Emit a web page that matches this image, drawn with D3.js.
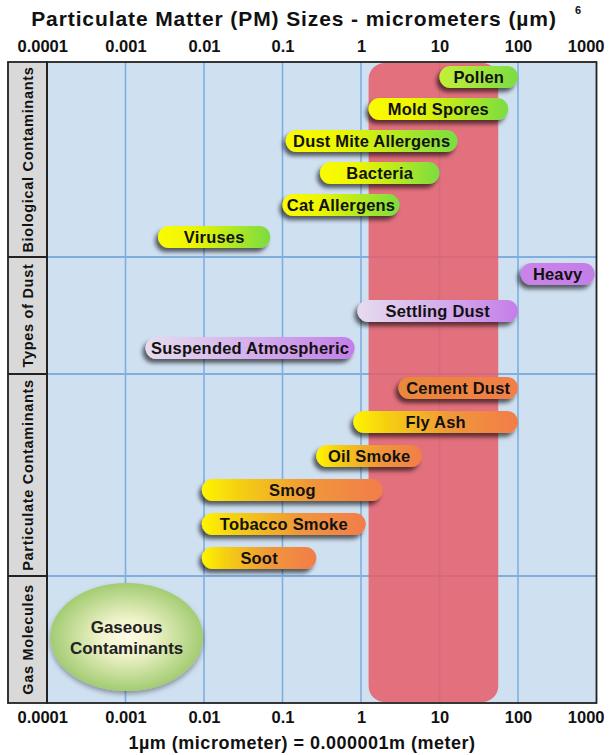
<!DOCTYPE html>
<html>
<head>
<meta charset="utf-8">
<script src="https://cdn.jsdelivr.net/npm/d3@7"></script>
<style>
  html, body { margin: 0; padding: 0; background: #ffffff; }
  svg { display: block; font-family: "Liberation Sans", Arial, Helvetica, sans-serif; }
</style>
</head>
<body>
<svg id="chart" width="613" height="755"></svg>
<script>
// ---------------- DATA ----------------
const groupNames = ["Biological Contaminants", "Types of Dust", "Particulate Contaminants", "Gas Molecules"];

const bioNames = ["Pollen", "Mold Spores", "Dust Mite Allergens", "Bacteria", "Cat Allergens", "Viruses"];
const bioMin   = [10, 1.25, 0.11, 0.3, 0.1, 0.0026];
const bioMax   = [100, 75, 17, 10, 3.1, 0.07];

const dustNames = ["Heavy", "Settling Dust", "Suspended Atmospheric"];
const dustMin   = [108, 0.9, 0.0018];
const dustMax   = [950, 100, 0.83];

const partNames = ["Cement Dust", "Fly Ash", "Oil Smoke", "Smog", "Tobacco Smoke", "Soot"];
const partMin   = [3, 0.8, 0.27, 0.0094, 0.0094, 0.0094];
const partMax   = [100, 100, 6, 1.9, 1.15, 0.27];

const gasLabel = ["Gaseous", "Contaminants"];
const gasRange = [0.00011, 0.0097];

const respirableBand = [1.25, 56];

const tickValues = [0.0001, 0.001, 0.01, 0.1, 1, 10, 100, 1000];
const tickLabels = ["0.0001", "0.001", "0.01", "0.1", "1", "10", "100", "1000"];

const titleText = "Particulate Matter (PM) Sizes - micrometers (\u00b5m)";
const titleSup = "6";
const captionText = "1\u00b5m (micrometer) = 0.000001m (meter)";

// ---------------- LAYOUT / STYLE ----------------
const plotL = 47, plotR = 596.5, plotT = 62, plotB = 703;
const labL = 8;
const groupBounds = [62, 257, 374, 576, 703];
const barH = 22;

const svg = d3.select("#chart");
const defs = svg.append("defs");

const x = d3.scaleLog().domain([0.0001, 1000]).range([plotL, plotR]);

const rowY = [
  d3.scalePoint().domain(bioNames).range([77, 237]),
  d3.scalePoint().domain(dustNames).range([274, 348]),
  d3.scalePoint().domain(partNames).range([388, 558])
];

const shadow = defs.append("filter").attr("id", "shadow")
  .attr("x", "-20%").attr("y", "-40%").attr("width", "140%").attr("height", "200%");
shadow.append("feDropShadow").attr("dx", -3).attr("dy", 4).attr("stdDeviation", 2.2)
  .attr("flood-color", "#000").attr("flood-opacity", 0.6);

const shadowSoft = defs.append("filter").attr("id", "shadowSoft")
  .attr("x", "-20%").attr("y", "-20%").attr("width", "140%").attr("height", "150%");
shadowSoft.append("feDropShadow").attr("dx", 0).attr("dy", 3).attr("stdDeviation", 2.5)
  .attr("flood-color", "#000").attr("flood-opacity", 0.35);

function makeGrad(id, stops) {
  const g = defs.append("linearGradient").attr("id", id)
    .attr("x1", "0%").attr("x2", "100%").attr("y1", "0%").attr("y2", "0%");
  stops.forEach(s => g.append("stop").attr("offset", s[0]).attr("stop-color", s[1]));
}
makeGrad("gBio", [[0, "#fbfb00"], [0.3, "#eef600"], [1, "#7bdc41"]]);
makeGrad("gBioSolid", [[0, "#c4ef38"], [1, "#7bdc41"]]);
makeGrad("gDust", [[0, "#e6dcee"], [0.45, "#d7b4ec"], [1, "#c47ee8"]]);
makeGrad("gDustSolid", [[0, "#c983e8"], [1, "#c47ee8"]]);
makeGrad("gPart", [[0, "#fff500"], [0.2, "#f5d010"], [0.6, "#f0963a"], [1, "#f27d4a"]]);
makeGrad("gPartSolid", [[0, "#e8893a"], [1, "#f27e48"]]);

const solidNames = ["Pollen", "Heavy", "Cement Dust"];

const rg = defs.append("radialGradient").attr("id", "gGas")
  .attr("cx", "50%").attr("cy", "50%").attr("r", "50%");
rg.append("stop").attr("offset", 0).attr("stop-color", "#fffbe6");
rg.append("stop").attr("offset", 0.35).attr("stop-color", "#eef2c8");
rg.append("stop").attr("offset", 1).attr("stop-color", "#a3cc72");

// ---------------- BACKGROUND ----------------
svg.append("rect").attr("x", plotL).attr("y", plotT)
  .attr("width", plotR - plotL).attr("height", plotB - plotT).attr("fill", "#cfe0f1");

svg.append("rect").attr("x", labL).attr("y", plotT)
  .attr("width", plotL - labL).attr("height", plotB - plotT).attr("fill", "#d9d9d9");

svg.append("g").selectAll("line").data(tickValues.slice(1, -1)).join("line")
  .attr("x1", d => x(d)).attr("x2", d => x(d))
  .attr("y1", plotT).attr("y2", plotB)
  .attr("stroke", "#7eafdf").attr("stroke-width", 1.6);

svg.append("g").selectAll("line").data(groupBounds.slice(1, -1)).join("line")
  .attr("x1", plotL).attr("x2", plotR).attr("y1", d => d).attr("y2", d => d)
  .attr("stroke", "#7eafdf").attr("stroke-width", 2);

svg.append("rect")
  .attr("x", x(respirableBand[0])).attr("y", plotT + 1)
  .attr("width", x(respirableBand[1]) - x(respirableBand[0]))
  .attr("height", plotB - plotT - 2)
  .attr("rx", 16).attr("ry", 16)
  .attr("fill", "#e5606c").attr("opacity", 0.88);

svg.append("g").selectAll("line").data(groupBounds.slice(1, -1)).join("line")
  .attr("x1", labL).attr("x2", plotL).attr("y1", d => d).attr("y2", d => d)
  .attr("stroke", "#222").attr("stroke-width", 2);

svg.append("rect").attr("x", labL).attr("y", plotT)
  .attr("width", plotL - labL).attr("height", plotB - plotT)
  .attr("fill", "none").attr("stroke", "#222").attr("stroke-width", 1.8);
svg.append("rect").attr("x", plotL).attr("y", plotT)
  .attr("width", plotR - plotL).attr("height", plotB - plotT)
  .attr("fill", "none").attr("stroke", "#222").attr("stroke-width", 1.8);

svg.append("g").selectAll("text").data(groupNames).join("text")
  .attr("transform", (d, i) => `translate(${(labL + plotL) / 2 + 5},${(groupBounds[i] + groupBounds[i + 1]) / 2}) rotate(-90)`)
  .attr("text-anchor", "middle")
  .attr("font-size", 14.5).attr("font-weight", "bold").attr("fill", "#111")
  .attr("letter-spacing", 0.7)
  .text(d => d);

// ---------------- BARS ----------------
const sets = [
  { names: bioNames, min: bioMin, max: bioMax, grad: "gBio", solid: "gBioSolid", y: rowY[0] },
  { names: dustNames, min: dustMin, max: dustMax, grad: "gDust", solid: "gDustSolid", y: rowY[1] },
  { names: partNames, min: partMin, max: partMax, grad: "gPart", solid: "gPartSolid", y: rowY[2] }
];

sets.forEach(s => {
  const rows = s.names.map((n, i) => ({ name: n, lo: s.min[i], hi: s.max[i] }));
  const g = svg.append("g");
  g.selectAll("rect").data(rows).join("rect")
    .attr("x", d => x(d.lo))
    .attr("y", d => s.y(d.name) - barH / 2)
    .attr("width", d => x(d.hi) - x(d.lo))
    .attr("height", barH)
    .attr("rx", barH / 2).attr("ry", barH / 2)
    .attr("fill", d => `url(#${solidNames.includes(d.name) ? s.solid : s.grad})`)
    .attr("filter", "url(#shadow)");
  g.selectAll("text").data(rows).join("text")
    .attr("x", d => (x(d.lo) + x(d.hi)) / 2)
    .attr("y", d => s.y(d.name) + 6)
    .attr("text-anchor", "middle")
    .attr("font-size", 16.5).attr("font-weight", "bold").attr("fill", "#111")
    .attr("letter-spacing", 0.2)
    .text(d => d.name);
});

const gcx = (x(gasRange[0]) + x(gasRange[1])) / 2;
const grx = (x(gasRange[1]) - x(gasRange[0])) / 2;
const gcy = 637;
svg.append("ellipse").attr("cx", gcx).attr("cy", gcy).attr("rx", grx).attr("ry", 54)
  .attr("fill", "url(#gGas)").attr("filter", "url(#shadowSoft)");
svg.append("g").selectAll("text").data(gasLabel).join("text")
  .attr("x", gcx).attr("y", (d, i) => gcy - 4 + i * 21)
  .attr("text-anchor", "middle")
  .attr("font-size", 17).attr("font-weight", "bold").attr("fill", "#222")
  .text(d => d);

// ---------------- AXES ----------------
function styleAxis(g) {
  g.select(".domain").remove();
  g.selectAll(".tick line").remove();
  g.selectAll(".tick text")
    .attr("font-family", "Liberation Sans, Arial, sans-serif")
    .attr("font-size", 16.5).attr("font-weight", "bold").attr("fill", "#111");
  const texts = g.selectAll(".tick text");
  const n = texts.size();
  texts.each(function (d, i) {
    if (i === 0) d3.select(this).attr("text-anchor", "start").attr("x", 17 - plotL);
    if (i === n - 1) d3.select(this).attr("text-anchor", "end").attr("x", 604 - x(1000));
  });
}

const fmt = d => tickLabels[tickValues.indexOf(d)];
svg.append("g").attr("transform", `translate(0,${plotT - 10})`)
  .call(d3.axisTop(x).tickValues(tickValues).tickFormat(fmt).tickSize(0).tickPadding(0))
  .call(styleAxis);
svg.append("g").attr("transform", `translate(0,${plotB + 8})`)
  .call(d3.axisBottom(x).tickValues(tickValues).tickFormat(fmt).tickSize(0).tickPadding(0))
  .call(styleAxis);

// ---------------- TITLE & CAPTION ----------------
svg.append("text").attr("x", 294).attr("y", 26)
  .attr("text-anchor", "middle")
  .attr("font-size", 21).attr("font-weight", "bold").attr("fill", "#111")
  .attr("letter-spacing", 0.9)
  .text(titleText);
svg.append("text").attr("x", 578).attr("y", 14)
  .attr("text-anchor", "middle")
  .attr("font-size", 11).attr("font-weight", "bold").attr("fill", "#111")
  .text(titleSup);
svg.append("text").attr("x", 302).attr("y", 749)
  .attr("text-anchor", "middle")
  .attr("font-size", 18).attr("font-weight", "bold").attr("fill", "#111")
  .attr("letter-spacing", 0.5)
  .text(captionText);
</script>
</body>
</html>
